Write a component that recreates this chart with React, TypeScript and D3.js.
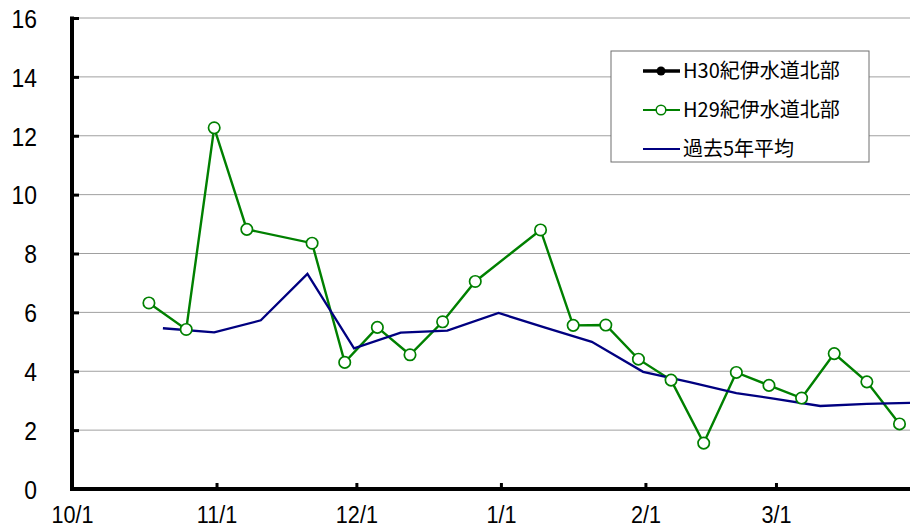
import React, { useEffect, useRef } from 'react';
import * as d3 from 'd3';

// H29 survey dates and values (weekly)
const h29Dates = [
  '2017-10-17', '2017-10-25', '2017-10-31', '2017-11-07', '2017-11-21', '2017-11-28',
  '2017-12-05', '2017-12-12', '2017-12-19', '2017-12-26', '2018-01-09', '2018-01-16',
  '2018-01-23', '2018-01-30', '2018-02-06', '2018-02-13', '2018-02-20', '2018-02-27',
  '2018-03-06', '2018-03-13', '2018-03-20', '2018-03-27'
];
const h29Values = [
  6.32, 5.42, 12.27, 8.82, 8.35, 4.3, 5.49, 4.56, 5.68, 7.05, 8.8, 5.56,
  5.57, 4.41, 3.7, 1.56, 3.96, 3.52, 3.09, 4.6, 3.64, 2.21
];

// 5-year average (10-day periods)
const avgDates = [
  '2017-10-20', '2017-10-31', '2017-11-10', '2017-11-20', '2017-11-30', '2017-12-10',
  '2017-12-20', '2017-12-31', '2018-01-10', '2018-01-20', '2018-01-31', '2018-02-10',
  '2018-02-20', '2018-02-28', '2018-03-10', '2018-03-20', '2018-03-31'
];
const avgValues = [
  5.46, 5.32, 5.73, 7.31, 4.78, 5.31, 5.38, 5.98, 5.48, 5.0, 3.98, 3.63,
  3.26, 3.07, 2.82, 2.89, 2.93
];

// H30 series has no data yet (legend only)
const h30Dates: string[] = [];
const h30Values: number[] = [];

const xTickDates = ['2017-10-01', '2017-11-01', '2017-12-01', '2018-01-01', '2018-02-01', '2018-03-01'];
const yTicks = [0, 2, 4, 6, 8, 10, 12, 14, 16];

const seriesNames = ['H30紀伊水道北部', 'H29紀伊水道北部', '過去5年平均'];

const parse = d3.timeParse('%Y-%m-%d');
const toPoint = (d: string) => d3.timeHour.offset(parse(d) as Date, 12);

const W = 910;
const H = 531;
const FONT = '"Liberation Sans", Arial, sans-serif';
const JP_FONT = '"Noto Sans CJK JP", sans-serif';
const SQUEEZE = 0.88;

const App = () => {
  const ref = useRef<SVGSVGElement>(null);

  useEffect(() => {
    const svg = d3.select(ref.current);
    svg.selectAll('*').remove();

    const x = d3.scaleTime()
      .domain([parse('2017-10-01') as Date, parse('2018-04-01') as Date])
      .range([72, 72 + 182 * 4.662]);

    const y = d3.scaleLinear().domain([0, 16]).range([489, 18]);

    svg.append('rect').attr('width', W).attr('height', H).attr('fill', '#fff');

    svg.append('clipPath').attr('id', 'plot-clip')
      .append('rect').attr('x', 72).attr('y', 0).attr('width', W - 72).attr('height', 495);

    // Grid lines
    svg.append('g')
      .selectAll('line')
      .data(yTicks.filter(d => d > 0))
      .enter().append('line')
      .attr('x1', 72)
      .attr('x2', W)
      .attr('y1', d => y(d))
      .attr('y2', d => y(d))
      .attr('stroke', '#a0a0a0')
      .attr('stroke-width', 1);

    const plot = svg.append('g').attr('clip-path', 'url(#plot-clip)');

    const line = d3.line<[Date, number]>()
      .x(d => x(d[0]))
      .y(d => y(d[1]));

    // H29 series
    const h29 = h29Dates.map((d, i) => [toPoint(d), h29Values[i]] as [Date, number]);
    plot.append('path')
      .datum(h29)
      .attr('fill', 'none')
      .attr('stroke', '#008000')
      .attr('stroke-width', 2.4)
      .attr('d', line);

    // 5-year average
    const avg = avgDates.map((d, i) => [toPoint(d), avgValues[i]] as [Date, number]);
    plot.append('path')
      .datum(avg)
      .attr('fill', 'none')
      .attr('stroke', '#000080')
      .attr('stroke-width', 2.3)
      .attr('d', line);

    plot.selectAll('.h29-dot')
      .data(h29)
      .enter().append('circle')
      .attr('class', 'h29-dot')
      .attr('cx', d => x(d[0]))
      .attr('cy', d => y(d[1]))
      .attr('r', 5.7)
      .attr('fill', '#fff')
      .attr('stroke', '#008000')
      .attr('stroke-width', 1.7);

    // H30 series (empty)
    const h30 = h30Dates.map((d, i) => [toPoint(d), h30Values[i]] as [Date, number]);
    plot.append('path')
      .datum(h30)
      .attr('fill', 'none')
      .attr('stroke', '#000')
      .attr('stroke-width', 3)
      .attr('d', line);

    // Axes
    const yAxis = svg.append('g')
      .attr('transform', 'translate(72,0)')
      .call(d3.axisLeft(y).tickValues(yTicks).tickSizeInner(-7).tickSizeOuter(0).tickPadding(35));

    const xAxis = svg.append('g')
      .attr('transform', 'translate(0,489)')
      .call(d3.axisBottom(x)
        .tickValues(xTickDates.map(d => parse(d) as Date))
        .tickFormat(d => d3.timeFormat('%-m/%-d')(d as Date))
        .tickSizeInner(-6).tickSizeOuter(0).tickPadding(17));

    [yAxis, xAxis].forEach(ax => {
      ax.select('.domain').attr('stroke', '#000').attr('stroke-width', 4);
      ax.selectAll('.tick line').attr('stroke', '#000').attr('stroke-width', 3);
      ax.selectAll('.tick text')
        .attr('fill', '#000')
        .style('font-family', FONT);
    });
    yAxis.selectAll('.tick text')
      .attr('dy', '0.36em')
      .attr('x', -35 / SQUEEZE)
      .attr('transform', `scale(${SQUEEZE},1)`)
      .style('font-size', '26px');
    xAxis.selectAll('.tick text')
      .attr('transform', `scale(0.9,1)`)
      .style('font-size', '24px');
    xAxis.select('.domain').attr('d', `M70,0H${W}`);
    yAxis.select('.domain').attr('d', 'M0,16.5V491');

    // Legend
    const legend = svg.append('g').attr('transform', 'translate(611,51)');
    legend.append('rect')
      .attr('width', 258)
      .attr('height', 111)
      .attr('fill', '#fff')
      .attr('stroke', '#6f6f6f')
      .attr('stroke-width', 1);

    const rows = legend.selectAll('.legend-item')
      .data(seriesNames)
      .enter().append('g')
      .attr('class', 'legend-item')
      .attr('transform', (d, i) => `translate(0,${20 + i * 39})`);

    rows.append('line')
      .attr('x1', 32)
      .attr('x2', 69)
      .attr('stroke', (d, i) => ['#000', '#008000', '#000080'][i])
      .attr('stroke-width', (d, i) => [3.5, 2, 2][i]);

    rows.filter((d, i) => i === 0).append('circle')
      .attr('cx', 50).attr('r', 4.5).attr('fill', '#000');
    rows.filter((d, i) => i === 1).append('circle')
      .attr('cx', 50).attr('r', 4.8).attr('fill', '#fff')
      .attr('stroke', '#008000').attr('stroke-width', 1.5);

    rows.append('text')
      .attr('x', 72)
      .attr('dy', '0.36em')
      .style('font-family', JP_FONT)
      .style('font-size', '20px')
      .attr('fill', '#000')
      .text(d => d);
  }, []);

  return (
    <svg
      ref={ref}
      width={W}
      height={H}
      style={{ position: 'absolute', left: 0, top: 0, display: 'block' }}
    />
  );
};

export default App;
